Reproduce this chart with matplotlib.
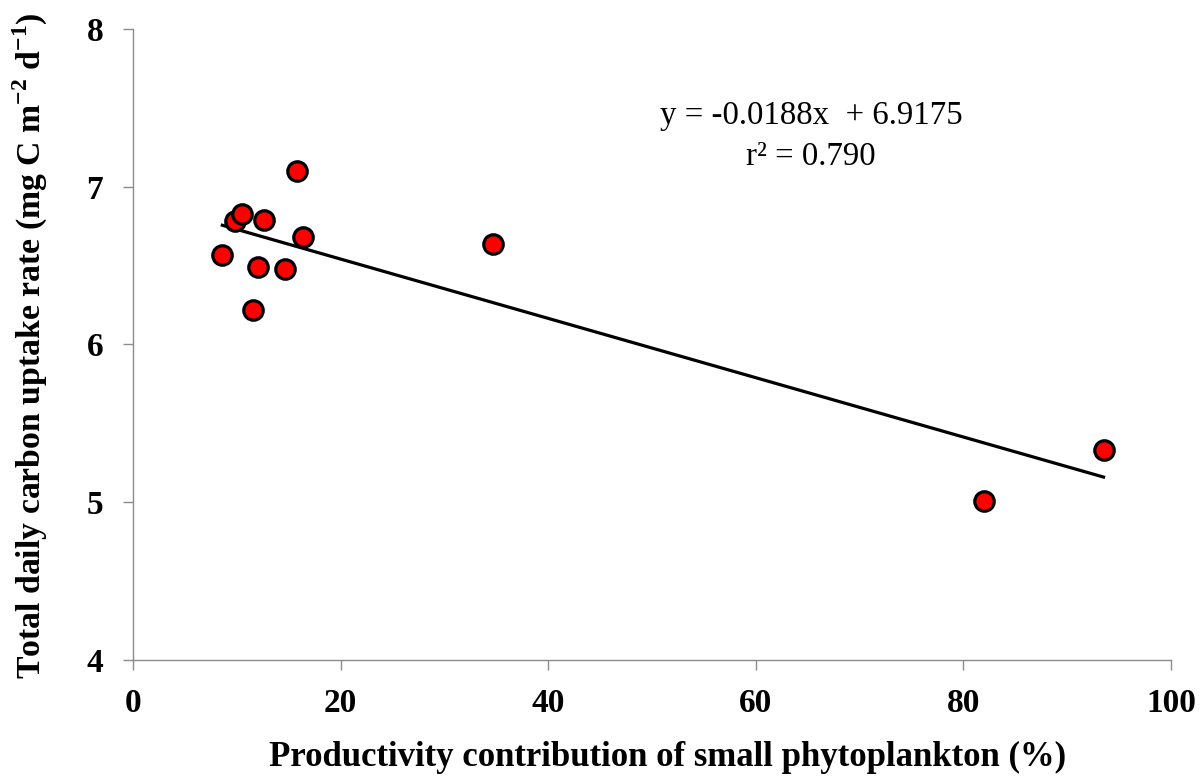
import numpy as np
import matplotlib
matplotlib.use("Agg")
import matplotlib.pyplot as plt

plt.rcParams['font.family'] = ['Liberation Serif', 'DejaVu Serif']
plt.rcParams['mathtext.fontset'] = 'custom'
plt.rcParams['mathtext.rm'] = 'Liberation Serif'
plt.rcParams['mathtext.bf'] = 'Liberation Serif:bold'

# data
small_pct = [8.6, 9.8, 10.5, 12.6, 12.0, 11.6, 14.6, 15.8, 16.4, 34.7, 82.0, 93.5]
uptake = [6.57, 6.78, 6.83, 6.79, 6.49, 6.22, 6.48, 7.10, 6.68, 6.64, 5.01, 5.33]
slope = -0.0188
intercept = 6.9175
r2_text = "r\u00b2 = 0.790"

x_ticks = [0, 20, 40, 60, 80, 100]
y_ticks = [4, 5, 6, 7, 8]

fig = plt.figure(figsize=(12.02, 7.81), dpi=100)
ax = fig.add_axes([0.1107, 0.1549, 0.8635, 0.8080])

# trend line over data range
xs = np.array([min(small_pct), max(small_pct)])
ax.plot(xs, slope * xs + intercept, color='black', lw=2.3, zorder=2)

ax.plot(small_pct, uptake, 'o', ms=14, mfc='#ff0000', mec='black', mew=2.3,
        linestyle='none', zorder=3)

ax.set_xlim(0, 100)
ax.set_ylim(4, 8)
ax.set_xticks(x_ticks)
ax.set_yticks(y_ticks)
for lab in ax.get_xticklabels() + ax.get_yticklabels():
    lab.set_fontweight('bold')
    lab.set_fontsize(24)

for s in ['top', 'right']:
    ax.spines[s].set_visible(False)
for s in ['left', 'bottom']:
    ax.spines[s].set_color('#8c8c8c')
    ax.spines[s].set_linewidth(1.0)
ax.tick_params(axis='both', direction='out', length=7.5, width=1.0,
               color='#8c8c8c')
ax.tick_params(axis='y', pad=14)
ax.tick_params(axis='x', pad=13)

ax.set_xlabel('Productivity contribution of small phytoplankton (%)',
              fontsize=25, fontweight='bold')
ax.xaxis.set_label_coords(0.515, -0.128)
ax.set_ylabel(r'Total daily carbon uptake rate (mg C m$^{\mathbf{-2}}$ d$^{\mathbf{-1}}$)',
              fontsize=24.3, fontweight='bold')
ax.yaxis.set_label_coords(-0.08, 0.498)

ax.text(0.653, 0.862, "y = -0.0188x  + 6.9175", transform=ax.transAxes,
        ha='center', va='center', fontsize=23.7)
ax.text(0.653, 0.798, r2_text, transform=ax.transAxes,
        ha='center', va='center', fontsize=23.7)

fig.savefig('out.png', dpi=100)
